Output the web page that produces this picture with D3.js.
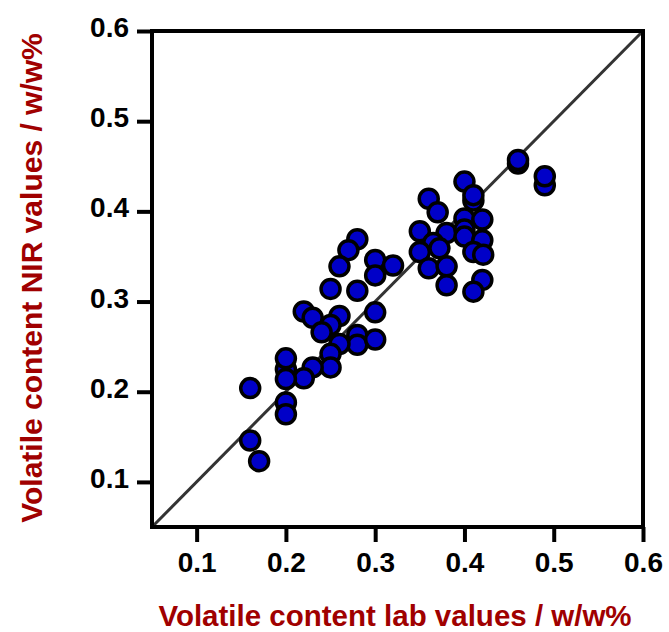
<!DOCTYPE html>
<html>
<head>
<meta charset="utf-8">
<script src="https://cdn.jsdelivr.net/npm/d3@7"></script>
<style>
  html, body { margin: 0; padding: 0; background: #fff; }
</style>
</head>
<body>
<div id="chart"></div>
<script>
// lab values (x) and NIR predicted values (y)
const labValues = [
  0.46, 0.46, 0.49, 0.49, 0.40, 0.41, 0.41, 0.36, 0.37, 0.40, 0.42, 0.38, 0.35,
  0.40, 0.40, 0.42, 0.365, 0.372, 0.35, 0.41, 0.421, 0.36, 0.38, 0.38, 0.42, 0.41,
  0.28, 0.27, 0.26, 0.30, 0.32, 0.30, 0.25, 0.28,
  0.22, 0.23, 0.26, 0.25, 0.24, 0.30, 0.28, 0.28, 0.30, 0.26, 0.25, 0.25, 0.23, 0.22,
  0.20, 0.20, 0.20, 0.16, 0.20, 0.20, 0.16, 0.17
];
const nirValues = [
  0.453, 0.457, 0.429, 0.439, 0.433, 0.412, 0.418, 0.414, 0.399, 0.392, 0.391, 0.376, 0.378,
  0.38, 0.372, 0.368, 0.365, 0.359, 0.355, 0.355, 0.352, 0.337, 0.339, 0.318, 0.324, 0.311,
  0.369, 0.357, 0.339, 0.346, 0.340, 0.329, 0.314, 0.312,
  0.289, 0.282, 0.284, 0.274, 0.266, 0.288, 0.263, 0.252, 0.258, 0.253, 0.242, 0.227, 0.227, 0.215,
  0.225, 0.237, 0.214, 0.204, 0.188, 0.175, 0.146, 0.123
];
const tickValues = [0.1, 0.2, 0.3, 0.4, 0.5, 0.6];
const axisMin = 0.05, axisMax = 0.6;
const xTitle = "Volatile content lab values / w/w%";
const yTitle = "Volatile content NIR values / w/w%";

const W = 669, H = 632;
const svg = d3.select("#chart").append("svg")
  .attr("width", W).attr("height", H)
  .style("font-family", "Arial, 'Liberation Sans', sans-serif");

const x = d3.scaleLinear().domain([axisMin, axisMax]).range([152, 643]);
const y = d3.scaleLinear().domain([axisMin, axisMax]).range([527, 31]);

// 1:1 line
svg.append("line")
  .attr("x1", x(axisMin)).attr("y1", y(axisMin))
  .attr("x2", x(axisMax)).attr("y2", y(axisMax))
  .attr("stroke", "#333").attr("stroke-width", 3);

// points
const pts = labValues.map((v, i) => ({ lab: v, nir: nirValues[i] }));
svg.append("g").selectAll("circle")
  .data(pts)
  .join("circle")
    .attr("cx", d => x(d.lab))
    .attr("cy", d => y(d.nir))
    .attr("r", 9.5)
    .attr("fill", "#0000c8")
    .attr("stroke", "#000")
    .attr("stroke-width", 3.5);

// frame
svg.append("rect")
  .attr("x", x(axisMin)).attr("y", y(axisMax))
  .attr("width", x(axisMax) - x(axisMin))
  .attr("height", y(axisMin) - y(axisMax))
  .attr("fill", "none").attr("stroke", "#000").attr("stroke-width", 4);

// axes
const xAxis = d3.axisBottom(x).tickValues(tickValues).tickSize(15).tickPadding(6).tickFormat(d3.format(".1f"));
const yAxis = d3.axisLeft(y).tickValues(tickValues).tickSize(15).tickPadding(8).tickFormat(d3.format(".1f"));

const gx = svg.append("g").attr("transform", `translate(0,${y(axisMin)})`).call(xAxis);
const gy = svg.append("g").attr("transform", `translate(${x(axisMin)},0)`).call(yAxis);

[gx, gy].forEach(g => {
  g.select(".domain").remove();
  g.selectAll(".tick line").attr("stroke", "#000").attr("stroke-width", 4);
  g.selectAll(".tick text")
    .attr("fill", "#000")
    .style("font-size", "28px")
    .style("font-weight", "bold");
});
gy.selectAll(".tick text").attr("dy", "0.2em");
gx.selectAll(".tick text").attr("dy", "0.85em");

// axis titles
svg.append("text")
  .attr("x", 395).attr("y", 626)
  .attr("text-anchor", "middle")
  .attr("fill", "#a00000")
  .style("font-size", "29.5px").style("font-weight", "bold")
  .text(xTitle);

svg.append("text")
  .attr("transform", "translate(42,278) rotate(-90)")
  .attr("text-anchor", "middle")
  .attr("fill", "#a00000")
  .style("font-size", "30px").style("font-weight", "bold")
  .text(yTitle);
</script>
</body>
</html>
